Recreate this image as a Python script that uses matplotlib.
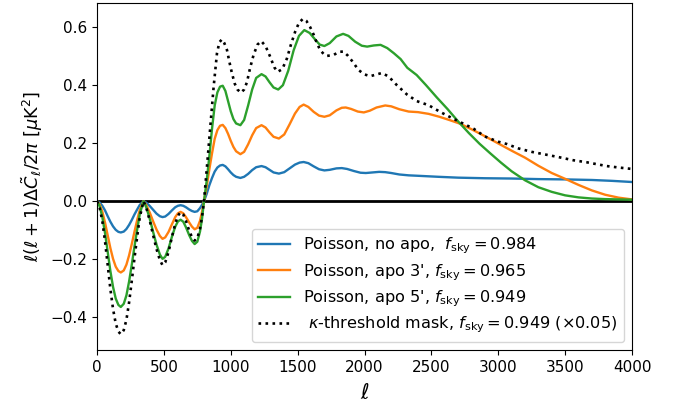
import matplotlib
matplotlib.use("Agg")
import matplotlib.pyplot as plt

# ---- data ----
ell_low = [0, 20, 40, 60, 80, 100, 120, 140, 160, 178, 200, 220, 240, 260, 280, 300, 320, 348,
           370, 395, 420, 445, 470, 490, 510, 535, 560, 585, 605, 625, 645, 665, 690, 710, 730,
           750, 770, 785, 800]

blue_low = [0, -0.005, -0.016, -0.032, -0.052, -0.071, -0.087, -0.099, -0.106, -0.108, -0.105,
            -0.096, -0.082, -0.065, -0.046, -0.029, -0.013, 0,
            -0.006, -0.017, -0.030, -0.043, -0.052, -0.055, -0.053, -0.044, -0.032, -0.021,
            -0.016, -0.014, -0.016, -0.021, -0.029, -0.034, -0.037, -0.035, -0.024, -0.013, 0]
orange_low = [0, -0.012, -0.037, -0.074, -0.118, -0.162, -0.199, -0.226, -0.241, -0.246, -0.239,
              -0.219, -0.187, -0.148, -0.106, -0.066, -0.030, 0,
              -0.015, -0.040, -0.070, -0.098, -0.120, -0.130, -0.125, -0.106, -0.080, -0.055,
              -0.042, -0.037, -0.042, -0.055, -0.074, -0.088, -0.097, -0.092, -0.068, -0.038, 0]
green_low = [0, -0.018, -0.055, -0.110, -0.175, -0.241, -0.296, -0.336, -0.358, -0.365, -0.354,
             -0.325, -0.277, -0.219, -0.157, -0.099, -0.044, 0,
             -0.023, -0.062, -0.107, -0.150, -0.184, -0.199, -0.192, -0.163, -0.123, -0.088,
             -0.070, -0.064, -0.071, -0.090, -0.118, -0.137, -0.148, -0.140, -0.105, -0.062, 0]
dot_low = [0, -0.023, -0.069, -0.138, -0.220, -0.303, -0.372, -0.422, -0.450, -0.459, -0.445,
           -0.409, -0.349, -0.275, -0.197, -0.124, -0.055, 0,
           -0.025, -0.068, -0.118, -0.165, -0.203, -0.221, -0.211, -0.175, -0.124, -0.078,
           -0.050, -0.038, -0.046, -0.068, -0.103, -0.124, -0.136, -0.128, -0.095, -0.055, 0]

ell_blue_hi = [820, 840, 860, 880, 900, 920, 940, 960, 980, 1000, 1020, 1040, 1072, 1100, 1130,
               1160, 1190, 1230, 1260, 1290, 1320, 1360, 1400, 1440, 1480, 1515, 1545, 1580,
               1620, 1660, 1700, 1740, 1790, 1830, 1870, 1920, 1970, 2010, 2060, 2110, 2155,
               2200, 2260, 2330, 2420, 2550, 2700, 2900, 3100, 3300, 3500, 3700, 3850, 4000]
blue_hi = [0.025, 0.055, 0.080, 0.102, 0.116, 0.123, 0.125, 0.120, 0.110, 0.099, 0.090, 0.084,
           0.080, 0.084, 0.094, 0.107, 0.117, 0.121, 0.117, 0.108, 0.099, 0.095, 0.100, 0.113,
           0.126, 0.133, 0.135, 0.131, 0.120, 0.110, 0.106, 0.108, 0.113, 0.114, 0.111, 0.104,
           0.098, 0.097, 0.099, 0.101, 0.100, 0.097, 0.092, 0.089, 0.087, 0.084, 0.081, 0.079,
           0.078, 0.076, 0.075, 0.073, 0.070, 0.066]

ell_orange_hi = [820, 840, 860, 880, 900, 920, 940, 960, 980, 1000, 1020, 1040, 1072, 1100, 1130,
                 1160, 1190, 1230, 1260, 1290, 1320, 1360, 1400, 1440, 1480, 1515, 1545, 1580,
                 1620, 1660, 1700, 1740, 1790, 1830, 1860, 1900, 1950, 1995, 2040, 2090, 2155,
                 2200, 2260, 2330, 2400, 2480, 2560, 2640, 2715, 2800, 2900, 3000, 3100, 3200,
                 3300, 3400, 3500, 3600, 3700, 3800, 3900, 4000]
orange_hi = [0.050, 0.110, 0.165, 0.215, 0.245, 0.260, 0.263, 0.252, 0.232, 0.208, 0.187, 0.172,
             0.162, 0.170, 0.196, 0.227, 0.252, 0.262, 0.254, 0.237, 0.222, 0.216, 0.230, 0.265,
             0.302, 0.325, 0.333, 0.325, 0.308, 0.295, 0.291, 0.296, 0.313, 0.322, 0.323, 0.318,
             0.309, 0.306, 0.312, 0.323, 0.330, 0.327, 0.317, 0.309, 0.307, 0.301, 0.291, 0.279,
             0.267, 0.248, 0.224, 0.199, 0.174, 0.150, 0.122, 0.097, 0.077, 0.056, 0.037, 0.022,
             0.012, 0.006]

ell_green_hi = [820, 840, 860, 880, 900, 920, 940, 960, 980, 1000, 1020, 1040, 1072, 1100, 1130,
                1160, 1190, 1230, 1260, 1290, 1320, 1355, 1390, 1430, 1470, 1510, 1550, 1590,
                1630, 1665, 1700, 1740, 1790, 1840, 1880, 1930, 1980, 2020, 2070, 2120, 2170,
                2220, 2270, 2320, 2390, 2460, 2540, 2620, 2700, 2780, 2860, 2940, 3020, 3100,
                3200, 3300, 3400, 3500, 3600, 3700, 3800, 3900, 4000]
green_hi = [0.070, 0.155, 0.250, 0.330, 0.375, 0.395, 0.398, 0.380, 0.345, 0.310, 0.283, 0.268,
            0.262, 0.280, 0.330, 0.385, 0.425, 0.438, 0.430, 0.410, 0.392, 0.385, 0.400, 0.450,
            0.520, 0.570, 0.590, 0.580, 0.558, 0.540, 0.535, 0.545, 0.568, 0.577, 0.570, 0.550,
            0.536, 0.533, 0.537, 0.539, 0.528, 0.510, 0.490, 0.460, 0.435, 0.400, 0.358, 0.318,
            0.275, 0.235, 0.198, 0.165, 0.133, 0.103, 0.072, 0.048, 0.032, 0.020, 0.013, 0.009,
            0.007, 0.006, 0.005]

ell_dot_hi = [822, 847, 872, 897, 915, 934, 952, 972, 990, 1009, 1030, 1050, 1076, 1100, 1121,
              1145, 1171, 1200, 1228, 1260, 1295, 1325, 1350, 1385, 1420, 1450, 1482, 1510, 1540,
              1565, 1594, 1619, 1644, 1670, 1700, 1720, 1768, 1810, 1843, 1875, 1906, 1956, 2000,
              2043, 2090, 2130, 2180, 2242, 2317, 2391, 2479, 2565, 2660, 2740, 2815, 2900, 3000,
              3064, 3150, 3250, 3350, 3450, 3562, 3662, 3811, 3900, 4000]
dot_hi = [0.118, 0.256, 0.394, 0.510, 0.548, 0.558, 0.545, 0.521, 0.480, 0.441, 0.405, 0.385,
          0.374, 0.385, 0.410, 0.460, 0.505, 0.540, 0.552, 0.535, 0.498, 0.462, 0.446, 0.455,
          0.492, 0.540, 0.585, 0.615, 0.629, 0.622, 0.600, 0.575, 0.545, 0.520, 0.505, 0.501,
          0.504, 0.515, 0.516, 0.502, 0.484, 0.452, 0.437, 0.431, 0.437, 0.442, 0.430, 0.400,
          0.368, 0.345, 0.331, 0.308, 0.285, 0.267, 0.250, 0.223, 0.205, 0.197, 0.182, 0.170,
          0.161, 0.152, 0.141, 0.134, 0.121, 0.116, 0.111]

labels = [r'Poisson, no apo,  $f_{\rm sky} = 0.984$',
          r"Poisson, apo 3', $f_{\rm sky} = 0.965$",
          r"Poisson, apo 5', $f_{\rm sky} = 0.949$",
          r' $\kappa$-threshold mask, $f_{\rm sky} = 0.949$ ($\times 0.05$)']

xticks = [0, 500, 1000, 1500, 2000, 2500, 3000, 3500, 4000]

fig = plt.figure(figsize=(6.81, 4.09), dpi=100)
ax = fig.add_axes([97/681, 1 - 350/409, (632 - 97)/681, (350 - 3)/409])

ax.axhline(0, color='black', lw=2)
ax.plot(ell_low + ell_blue_hi, blue_low + blue_hi, color='#1f77b4', lw=1.7, label=labels[0])
ax.plot(ell_low + ell_orange_hi, orange_low + orange_hi, color='#ff7f0e', lw=1.7, label=labels[1])
ax.plot(ell_low + ell_green_hi, green_low + green_hi, color='#2ca02c', lw=1.7, label=labels[2])
ax.plot(ell_low + ell_dot_hi, dot_low + dot_hi, color='black', lw=1.9, ls=':', label=labels[3])

ax.set_xlim(0, 4000)
ax.set_xticks(xticks)
ax.tick_params(labelsize=11)
ax.set_xlabel(r'$\ell$', fontsize=15, labelpad=6)
ax.set_ylabel(r'$\ell(\ell+1)\Delta\tilde{C}_\ell/2\pi\ [\mu{\rm K}^2]$', fontsize=12.8)
ax.legend(loc='lower right', fontsize=11.6, handlelength=2.0, labelspacing=0.36,
          borderpad=0.4, borderaxespad=0.5)

fig.savefig('out.png', dpi=100)
